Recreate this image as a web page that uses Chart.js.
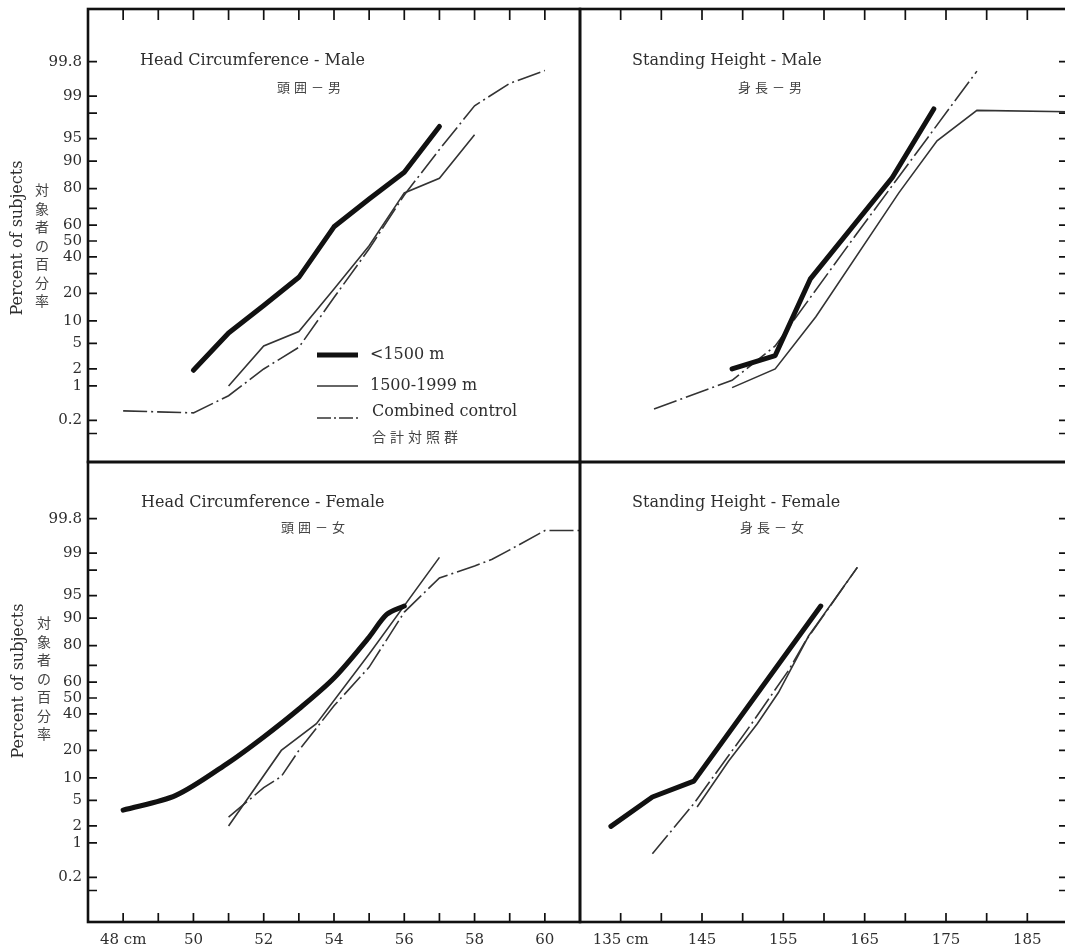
<!DOCTYPE html>
<html><head><meta charset="utf-8">
<script src="https://cdn.jsdelivr.net/npm/chart.js@4.4.1/dist/chart.umd.min.js"></script>
<style>
html,body{margin:0;padding:0;background:#fff;overflow:hidden;width:1065px;height:947px;position:relative;}
canvas{position:absolute;}
</style></head><body>
<canvas id="tl"></canvas><canvas id="tr"></canvas><canvas id="bl"></canvas><canvas id="br"></canvas>
<script>
// ---------- axis ticks ----------
const yTickPct = [99.8, 99, 98, 95, 90, 80, 70, 60, 50, 40, 30, 20, 10, 5, 2, 1, 0.2, 0.1];
const yTickLabels = ['99.8','99','','95','90','80','','60','50','40','','20','10','5','2','1','0.2',''];
const headTicks = [48,49,50,51,52,53,54,55,56,57,58,59,60];
const headTickLabels = ['48 cm','','50','','52','','54','','56','','58','','60'];
const heightTicks = [135,140,145,150,155,160,165,170,175,180,185];
const heightTickLabels = ['135 cm','','145','','155','','165','','175','','185'];

// ---------- Head circumference - Male (cm, percent) ----------
const hcMaleLowX = [50, 51, 52, 53, 54, 55, 56, 57];
const hcMaleLowPct = [1.9, 7, 15, 28, 59, 75, 86.5, 96.7];
const hcMaleMidX = [51, 52, 53, 54, 55, 56, 57, 58];
const hcMaleMidPct = [1, 4.6, 7.3, 22, 47, 78, 84.3, 95.6];
const hcMaleCtlX = [48, 50, 51, 52, 53, 54, 55, 56, 57, 58, 59, 60];
const hcMaleCtlPct = [0.32, 0.29, 0.65, 2, 4.4, 18.2, 45, 77, 92.9, 98.5, 99.43, 99.69];

// ---------- Standing height - Male ----------
const shMaleLowX = [148.7, 154, 158.3, 168.4, 173.5];
const shMaleLowPct = [2, 3.3, 27, 84.6, 98.3];
const shMaleMidX = [148.7, 154, 159, 169.2, 173.9, 178.8, 190];
const shMaleMidPct = [0.93, 2, 11.2, 78, 94.6, 98.2, 98.1];
const shMaleCtlX = [139.1, 148.7, 154, 164, 178.8];
const shMaleCtlPct = [0.35, 1.27, 4.6, 54.5, 99.68];

// ---------- Head circumference - Female ----------
const hcFemLowX = [48, 49.5, 51, 52, 53, 54, 55, 55.5, 56];
const hcFemLowPct = [3.6, 5.9, 15, 26.6, 43, 62.6, 83.6, 91, 93];
const hcFemMidX = [51, 52.5, 53.5, 55, 57];
const hcFemMidPct = [2, 20, 34, 76, 98.8];
const hcFemCtlX = [51, 52, 52.5, 53, 54, 55, 56, 57, 58, 58.5, 59, 60, 61];
const hcFemCtlPct = [2.8, 7.5, 10.4, 20, 45, 69, 91.6, 97.3, 98.3, 98.7, 99.13, 99.64, 99.64];

// ---------- Standing height - Female ----------
const shFemLowX = [133.8, 138.9, 144, 159.6];
const shFemLowPct = [1.97, 5.6, 9.1, 93];
const shFemMidX = [144.4, 148.3, 151.8, 154.4, 158.1, 164.1];
const shFemMidPct = [4, 15.7, 34, 53.5, 84, 98.2];
const shFemCtlX = [138.9, 144, 150.8, 155.7, 157.7, 164.1];
const shFemCtlPct = [0.62, 4.5, 32, 67.5, 81.8, 98.2];

const seriesNames = ['<1500 m', '1500-1999 m', 'Combined control'];

// ---------- probability (normal quantile) transform ----------
function probit(p){
  const a=[-3.969683028665376e+01,2.209460984245205e+02,-2.759285104469687e+02,1.383577518672690e+02,-3.066479806614716e+01,2.506628277459239e+00];
  const b=[-5.447609879822406e+01,1.615858368580409e+02,-1.556989798598866e+02,6.680131188771972e+01,-1.328068155288572e+01];
  const c=[-7.784894002430293e-03,-3.223964580411365e-01,-2.400758277161838e+00,-2.549671720786347e+00,4.374664141464968e+00,2.938163982698783e+00];
  const d=[7.784695709041462e-03,3.224671290700398e-01,2.445134137142996e+00,3.754408661907416e+00];
  const pl=0.02425, ph=1-pl;
  if(p<pl){const q=Math.sqrt(-2*Math.log(p));return (((((c[0]*q+c[1])*q+c[2])*q+c[3])*q+c[4])*q+c[5])/((((d[0]*q+d[1])*q+d[2])*q+d[3])*q+1);}
  if(p<=ph){const q=p-0.5,r=q*q;return (((((a[0]*r+a[1])*r+a[2])*r+a[3])*r+a[4])*r+a[5])*q/(((((b[0]*r+b[1])*r+b[2])*r+b[3])*r+b[4])*r+1);}
  const q=Math.sqrt(-2*Math.log(1-p));return -(((((c[0]*q+c[1])*q+c[2])*q+c[3])*q+c[4])*q+c[5])/((((d[0]*q+d[1])*q+d[2])*q+d[3])*q+1);
}
const toPts = (xs, pcts) => xs.map((x,i)=>({x:x, y:probit(pcts[i]/100)}));

const SERIF = "'DejaVu Serif', 'Liberation Serif', serif";
const CJK = "'Noto Sans CJK JP', 'Noto Sans CJK SC', sans-serif";
const TXT = '#2e2e2e';
const TICK = 9;
const PXZ = 62.3; // pixels per z unit

function styles(kind, tension){
  if(kind===0) return {borderColor:'#111', borderWidth:5, borderCapStyle:'round', borderJoinStyle:'round', tension:tension||0};
  if(kind===1) return {borderColor:'#333', borderWidth:1.6, tension:0};
  return {borderColor:'#333', borderWidth:1.6, borderDash:[24,4,2,4], tension:0};
}
function noPad(s){ s.paddingTop=0; s.paddingBottom=0; s.paddingLeft=0; s.paddingRight=0; }

function makePanel(cfg){
  const cv = document.getElementById(cfg.id);
  cv.width = cfg.w; cv.height = cfg.h;
  cv.style.left = cfg.left+'px'; cv.style.top = cfg.top+'px';
  cv.style.width = cfg.w+'px'; cv.style.height = cfg.h+'px';
  const datasets = cfg.series.map((s,i)=>Object.assign({
    label: seriesNames[i], data: toPts(s[0], s[1]), showLine:true, fill:false,
    pointRadius:0, pointHoverRadius:0
  }, styles(i, s[2])));
  const plugin = {
    id:'deco_'+cfg.id,
    afterDraw(chart){
      const ctx=chart.ctx, a=chart.chartArea, xs=chart.scales.x, ys=chart.scales.y;
      ctx.save();
      ctx.strokeStyle='#111'; ctx.lineWidth=1.7;
      ctx.beginPath();
      if(cfg.sides.includes('top')) cfg.xTicks.forEach(v=>{const p=xs.getPixelForValue(v);ctx.moveTo(p,a.top);ctx.lineTo(p,a.top+TICK+2);});
      if(cfg.sides.includes('bottom')) cfg.xTicks.forEach(v=>{const p=xs.getPixelForValue(v);ctx.moveTo(p,a.bottom);ctx.lineTo(p,a.bottom-TICK);});
      if(cfg.sides.includes('left')) yTickPct.forEach(v=>{const p=ys.getPixelForValue(probit(v/100));ctx.moveTo(a.left,p);ctx.lineTo(a.left+TICK,p);});
      if(cfg.sides.includes('right')) yTickPct.forEach(v=>{const p=ys.getPixelForValue(probit(v/100));ctx.moveTo(a.right,p);ctx.lineTo(a.right-TICK,p);});
      ctx.stroke();
      ctx.lineWidth=2.6;
      ctx.strokeRect(a.left,a.top,a.right-a.left,a.bottom-a.top);
      // texts in page coordinates
      ctx.translate(-cfg.left,-cfg.top);
      ctx.fillStyle=TXT;
      ctx.textBaseline='middle'; ctx.textAlign='left';
      ctx.font='16px '+SERIF;
      ctx.fillText(cfg.title, cfg.titlePos[0], cfg.titlePos[1]);
      ctx.font='13px '+CJK;
      ctx.fillStyle='#444';
      [...cfg.titleJa].forEach((ch,i)=>ctx.fillText(ch, cfg.titleJaPos[0]+i*17, cfg.titleJaPos[1]));
      ctx.fillStyle=TXT;
      if(cfg.yTitle){
        const [cx,cy,jx,jy]=cfg.yTitle;
        ctx.save(); ctx.translate(cx,cy); ctx.rotate(-Math.PI/2);
        ctx.textAlign='center'; ctx.font='16px '+SERIF; ctx.fillText('Percent of subjects',0,0);
        ctx.restore();
        ctx.textAlign='center'; ctx.font='14px '+CJK; ctx.fillStyle='#444';
        [...'対象者の百分率'].forEach((ch,i)=>ctx.fillText(ch, jx, jy+i*18.5));
        ctx.fillStyle=TXT; ctx.textAlign='left';
      }
      if(cfg.legend){
        const rows=[[355,0],[386,1],[418,2]];
        rows.forEach(([y,k])=>{
          const st=styles(k);
          ctx.save(); ctx.strokeStyle=st.borderColor; ctx.lineWidth=st.borderWidth;
          ctx.setLineDash(k===2?[14,3,2,3]:[]);
          ctx.beginPath(); ctx.moveTo(317,y); ctx.lineTo(358,y); ctx.stroke(); ctx.restore();
        });
        ctx.font='16px '+SERIF; ctx.fillStyle=TXT;
        ctx.fillText(seriesNames[0], 370, 355);
        ctx.fillText(seriesNames[1], 370, 386);
        ctx.fillText(seriesNames[2], 372, 412);
        ctx.font='14px '+CJK; ctx.fillStyle='#444';
        [...'合計対照群'].forEach((ch,i)=>ctx.fillText(ch, 372+i*18, 437));
      }
      ctx.restore();
    }
  };
  const xOpts = {type:'linear', min:cfg.xMin, max:cfg.xMax, display: !!cfg.xLabels,
    grid:{display:false, drawTicks:false}, border:{display:false}};
  if(cfg.xLabels){
    xOpts.afterBuildTicks = s=>{ s.ticks = cfg.xTicks.map(v=>({value:v})); };
    xOpts.afterFit = s=>{ s.height = 25; noPad(s); };
    xOpts.ticks = {autoSkip:false, maxRotation:0, padding:9, color:TXT, font:{family:SERIF, size:15},
      callback:(v,i)=>cfg.xLabels[i]};
  }
  const yOpts = {type:'linear', min:cfg.zMin, max:cfg.zMax, display: !!cfg.yLabels,
    grid:{display:false, drawTicks:false}, border:{display:false}};
  if(cfg.yLabels){
    yOpts.afterBuildTicks = s=>{ s.ticks = yTickPct.map(p=>({value:probit(p/100)})); };
    yOpts.afterFit = s=>{ s.width = 88; noPad(s); };
    yOpts.ticks = {autoSkip:false, padding:6, color:TXT, font:{family:SERIF, size:15},
      callback:(v,i)=>yTickLabels[i]};
  }
  return new Chart(cv, {
    type:'scatter',
    data:{datasets},
    options:{
      responsive:false, animation:false, devicePixelRatio:1,
      layout:{padding:cfg.pad},
      plugins:{legend:{display:false}, tooltip:{enabled:false}},
      scales:{x:xOpts, y:yOpts}
    },
    plugins:[plugin]
  });
}

const zTop0 = 241, zBot0 = 698;
makePanel({id:'tl', left:0, top:0, w:582, h:464, pad:{left:0,top:9,right:2,bottom:2},
  xMin:47, xMax:61, xTicks:headTicks, xLabels:null, yLabels:true,
  zMax:(zTop0-9)/PXZ, zMin:(zTop0-462)/PXZ, sides:['top','left'],
  title:'Head Circumference - Male', titlePos:[140,61], titleJa:'頭囲－男', titleJaPos:[277,87],
  yTitle:[18,238,42,190], legend:true,
  series:[[hcMaleLowX,hcMaleLowPct],[hcMaleMidX,hcMaleMidPct],[hcMaleCtlX,hcMaleCtlPct]]});
makePanel({id:'tr', left:578, top:0, w:500, h:464, pad:{left:2,top:9,right:10,bottom:2},
  xMin:130, xMax:190, xTicks:heightTicks, xLabels:null, yLabels:false,
  zMax:(zTop0-9)/PXZ, zMin:(zTop0-462)/PXZ, sides:['top','right'],
  title:'Standing Height - Male', titlePos:[632,61], titleJa:'身長－男', titleJaPos:[738,87],
  series:[[shMaleLowX,shMaleLowPct],[shMaleMidX,shMaleMidPct],[shMaleCtlX,shMaleCtlPct]]});
makePanel({id:'bl', left:0, top:460, w:582, h:487, pad:{left:0,top:2,right:2,bottom:0},
  xMin:47, xMax:61, xTicks:headTicks, xLabels:headTickLabels, yLabels:true,
  zMax:(zBot0-462)/PXZ, zMin:(zBot0-922)/PXZ, sides:['bottom','left'],
  title:'Head Circumference - Female', titlePos:[141,503], titleJa:'頭囲－女', titleJaPos:[281,527],
  yTitle:[19,681,44,623],
  series:[[hcFemLowX,hcFemLowPct,0.3],[hcFemMidX,hcFemMidPct],[hcFemCtlX,hcFemCtlPct]]});
makePanel({id:'br', left:578, top:460, w:500, h:487, pad:{left:2,top:2,right:10,bottom:0},
  xMin:130, xMax:190, xTicks:heightTicks, xLabels:heightTickLabels, yLabels:false,
  zMax:(zBot0-462)/PXZ, zMin:(zBot0-922)/PXZ, sides:['bottom','right'],
  title:'Standing Height - Female', titlePos:[632,503], titleJa:'身長－女', titleJaPos:[740,527],
  series:[[shFemLowX,shFemLowPct],[shFemMidX,shFemMidPct],[shFemCtlX,shFemCtlPct]]});
</script>
</body></html>
